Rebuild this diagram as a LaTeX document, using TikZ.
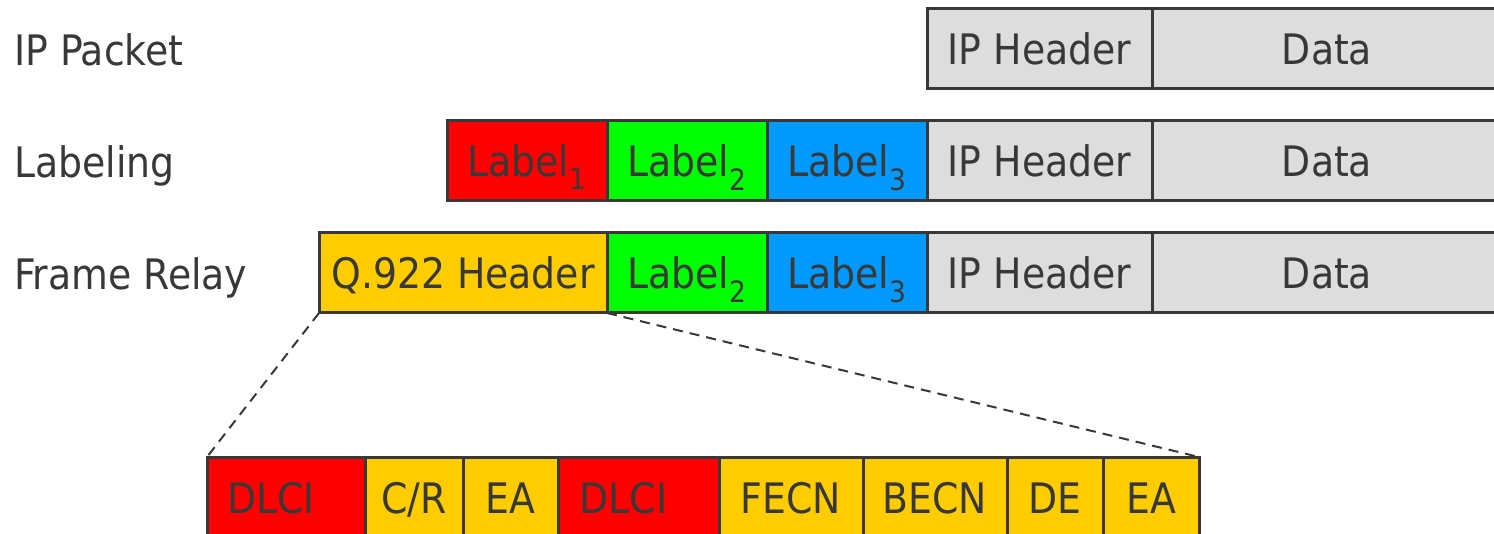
\documentclass[tikz,border=0pt]{standalone}
\usepackage{fontspec}
\setmainfont{DejaVu Sans Condensed}
\usepackage{tikz}
\usetikzlibrary{positioning}

\definecolor{ink}{HTML}{383838}
\definecolor{ipgray}{HTML}{DDDDDD}
\definecolor{lred}{HTML}{FF0000}
\definecolor{lgreen}{HTML}{00FF00}
\definecolor{lblue}{HTML}{0099FF}
\definecolor{fryellow}{HTML}{FFCC00}

\begin{document}
\begin{tikzpicture}[x=1pt,y=-1pt,
		every node/.style={text=ink,font=\fontsize{42}{50}\selectfont},
		field/.style={draw=ink,line width=3pt,minimum height=80pt,
			inner sep=0pt,outer sep=0pt,text height=32pt,text depth=0pt},
		rowname/.style={anchor=base west,inner sep=0pt},
		iphead/.style={field,fill=ipgray,minimum width=225pt},
		ipdata/.style={field,fill=ipgray,minimum width=350pt},
		labelbox/.style={field,minimum width=160pt},
		frfield/.style={field,fill=fryellow},
		dlcibox/.style={field,fill=lred,text width=118pt,align=left},
		zoomline/.style={draw=ink,line width=2pt,dash pattern=on 10pt off 7pt}]

		\useasboundingbox (0,0) rectangle (1494,534);

		% IP packet
		\node [rowname] (ippacket) at (14,66) {IP Packet};
		\node [iphead,anchor=north west] (iph1) at (927,9) {IP Header};
		\node [ipdata,right=0pt of iph1] (data1) {Data};

		% labeling
		\node [rowname] (labeling) at (14,178) {Labeling};
		\node [labelbox,fill=lred,anchor=north west] (lab1) at (447,121) {Label\textsubscript{1}};
		\node [labelbox,fill=lgreen,right=0pt of lab1] (lab2) {Label\textsubscript{2}};
		\node [labelbox,fill=lblue,right=0pt of lab2] (lab3) {Label\textsubscript{3}};
		\node [iphead,right=0pt of lab3] (iph2) {IP Header};
		\node [ipdata,right=0pt of iph2] (data2) {Data};

		% frame relay
		\node [rowname] (framerelay) at (14,290) {Frame Relay};
		\node [frfield,minimum width=288pt,anchor=north west] (q922) at (319,233) {Q.922 Header};
		\node [labelbox,fill=lgreen,right=0pt of q922] (fr2) {Label\textsubscript{2}};
		\node [labelbox,fill=lblue,right=0pt of fr2] (fr3) {Label\textsubscript{3}};
		\node [iphead,right=0pt of fr3] (iph3) {IP Header};
		\node [ipdata,right=0pt of iph3] (data3) {Data};

		% Q.922 header fields
		\node [dlcibox,minimum width=158pt,anchor=north west] (dlcia) at (207,457) {DLCI};
		\node [frfield,minimum width=98pt,right=0pt of dlcia] (cr) {C/R};
		\node [frfield,minimum width=95pt,right=0pt of cr] (eaa) {EA};
		\node [dlcibox,minimum width=161pt,right=0pt of eaa] (dlcib) {DLCI};
		\node [frfield,minimum width=144pt,right=0pt of dlcib] (fecn) {FECN};
		\node [frfield,minimum width=144pt,right=0pt of fecn] (becn) {BECN};
		\node [frfield,minimum width=96pt,right=0pt of becn] (de) {DE};
		\node [frfield,minimum width=96pt,right=0pt of de] (eab) {EA};

		\draw [zoomline] (q922.south west) -- (dlcia.north west);
		\draw [zoomline] (q922.south east) -- (eab.north east);

\end{tikzpicture}
\end{document}
